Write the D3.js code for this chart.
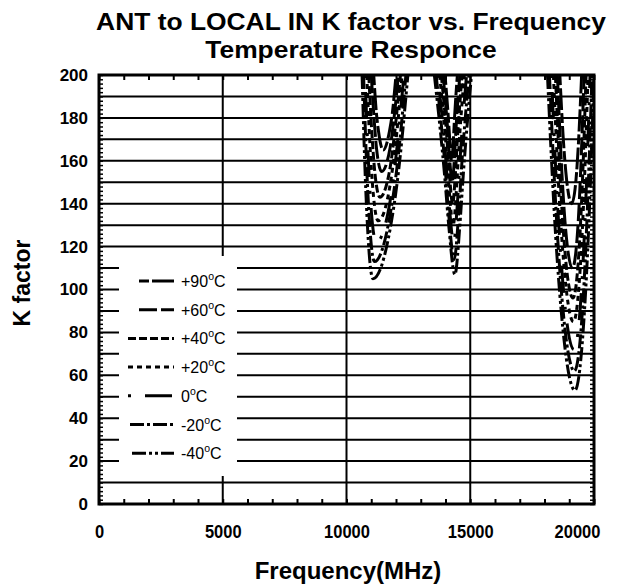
<!DOCTYPE html>
<html><head><meta charset="utf-8">
<script src="https://cdnjs.cloudflare.com/ajax/libs/d3/7.8.5/d3.min.js"></script>
<style>body{margin:0;background:#fff} text{font-family:"Liberation Sans",Arial,sans-serif;fill:#000}</style>
</head><body><svg id="c" width="621" height="584"></svg>
<script>
// ---- data: each series = three U-shaped segments of [frequency MHz, K factor]
const temps = ["+90", "+60", "+40", "+20", "0", "-20", "-40"];
const kP90 = [
  [[11100,200],[11210,182],[11290,174],[11480,165],[11740,174],[11850,182],[12000,200]],
  [[13980,200],[14115,180],[14170,170],[14250,160],[14320,170],[14365,180],[14480,200]],
  [[18620,200],[18760,170],[18860,155],[19100,140],[19300,155],[19380,170],[19500,200]]
];
const kP60 = [
  [[11000,200],[11125,178],[11210,166],[11420,155],[11760,166],[11900,178],[12100,200]],
  [[13900,200],[14085,175],[14160,162],[14270,150],[14365,162],[14425,175],[14580,200]],
  [[18520,200],[18700,155],[18825,132],[19130,110],[19365,132],[19460,155],[19600,200]]
];
const kP40 = [
  [[10900,200],[11030,172],[11125,157],[11350,143],[11765,157],[11935,172],[12180,200]],
  [[13830,200],[14060,170],[14150,155],[14290,140],[14405,155],[14480,170],[14670,200]],
  [[18440,200],[18650,148],[18795,122],[19150,96],[19415,122],[19525,148],[19680,200]]
];
const kP20 = [
  [[10820,200],[10955,166],[11050,149],[11280,132],[11765,149],[11965,166],[12250,200]],
  [[13760,200],[14035,165],[14145,147],[14310,130],[14445,147],[14535,165],[14760,200]],
  [[18360,200],[18600,142],[18765,114],[19170,85],[19465,114],[19585,142],[19760,200]]
];
const k0 = [
  [[10750,200],[10880,161],[10975,141],[11200,122],[11760,141],[11990,161],[12320,200]],
  [[13690,200],[14010,161],[14140,141],[14330,122],[14485,141],[14590,161],[14850,200]],
  [[18280,200],[18545,136],[18735,104],[19190,72],[19515,104],[19650,136],[19840,200]]
];
const kM20 = [
  [[10690,200],[10820,156],[10910,135],[11130,113],[11765,135],[12030,156],[12400,200]],
  [[13620,200],[13985,157],[14130,135],[14350,114],[14530,135],[14650,157],[14950,200]],
  [[18200,200],[18495,131],[18705,96],[19210,62],[19565,96],[19710,131],[19920,200]]
];
const kM40 = [
  [[10630,200],[10760,152],[10850,129],[11070,105],[11775,129],[12070,152],[12480,200]],
  [[13550,200],[13965,153],[14130,130],[14380,107],[14580,130],[14715,153],[15050,200]],
  [[18120,200],[18445,126],[18675,90],[19230,53],[19615,90],[19775,126],[20000,200]]
];
const seriesData = [kP90, kP60, kP40, kP20, k0, kM20, kM40];
const freqTicks = [0, 5000, 10000, 15000, 20000];
const kTicks = [0, 20, 40, 60, 80, 100, 120, 140, 160, 180, 200];
const titleLines = ["ANT to LOCAL IN K factor vs. Frequency", "Temperature Responce"];
const xTitle = "Frequency(MHz)";
const yTitle = "K factor";

// ---- styles
const dashes = ["10,3,22,3", "18,4", "8,3", "5,4", "3,14,27,14", "14,3,3,3", "14,3,3,3,3,3"];

const svg = d3.select("#c");
const L = 99, R = 594, T = 75, B = 504;
const x = d3.scaleLinear().domain([0, 20000]).range([L, R]);
const y = d3.scaleLinear().domain([0, 200]).range([B, T]);

// title
svg.append("g").selectAll("text").data(titleLines).join("text")
  .attr("transform", (d, i) => `translate(351,${30 + i * 28}) scale(1.1,1)`)
  .attr("text-anchor", "middle").attr("font-size", 24).attr("font-weight", "bold").text(d => d);

// gridlines
const grid = svg.append("g").attr("stroke", "#000").attr("stroke-width", 2);
grid.selectAll("line.h").data(d3.range(10, 200, 10)).join("line")
  .attr("x1", L).attr("x2", R).attr("y1", d => y(d)).attr("y2", d => y(d));
grid.selectAll("line.v").data([5000, 10000, 15000]).join("line")
  .attr("y1", T).attr("y2", B).attr("x1", d => x(d)).attr("x2", d => x(d));

// minor ticks (inward)
const xAxB = d3.axisBottom(x).tickValues(d3.range(0, 20001, 1000)).tickSize(-5).tickFormat("");
const xAxT = d3.axisTop(x).tickValues(d3.range(0, 20001, 1000)).tickSize(-5).tickFormat("");
const yAxL = d3.axisLeft(y).tickValues(d3.range(0, 201, 2)).tickSize(-4).tickFormat("");
const yAxR = d3.axisRight(y).tickValues(d3.range(0, 201, 2)).tickSize(-4).tickFormat("");
[[xAxB, `translate(0,${B})`, 2], [xAxT, `translate(0,${T})`, 2], [yAxL, `translate(${L},0)`, 1.5], [yAxR, `translate(${R},0)`, 1.5]].forEach(([ax, tr, w]) => {
  const g = svg.append("g").attr("transform", tr).call(ax);
  g.select(".domain").remove();
  g.selectAll("line").attr("stroke", "#000").attr("stroke-width", w);
});

// legend background
svg.append("rect").attr("x", 119).attr("y", 256).attr("width", 118).attr("height", 220).attr("fill", "#fff");

// curves
const g = svg.append("g");
svg.append("clipPath").attr("id", "clip").append("rect").attr("x", L).attr("y", T).attr("width", R - L).attr("height", B - T);
const line = d3.line().x(d => x(d[0])).y(d => y(d[1])).curve(d3.curveMonotoneX);
seriesData.forEach((segs, i) => {
  g.append("g").attr("clip-path", "url(#clip)").selectAll("path").data(segs).join("path")
    .attr("d", line).attr("fill", "none").attr("stroke", "#000")
    .attr("stroke-width", 3).attr("stroke-dasharray", dashes[i]);
});

// frame
svg.append("rect").attr("x", L).attr("y", T).attr("width", R - L).attr("height", B - T)
  .attr("fill", "none").attr("stroke", "#000").attr("stroke-width", 3);

// tick labels
const xl = svg.append("g").attr("transform", `translate(0,${B})`)
  .call(d3.axisBottom(x).tickValues(freqTicks).tickSize(0).tickPadding(18).tickFormat(d3.format("d")));
xl.select(".domain").remove();
xl.selectAll("text").attr("font-size", 16.5).attr("font-weight", "bold").attr("font-family", "Liberation Sans, Arial, sans-serif")
  .attr("dx", d => d === 20000 ? -17 : 0)
  .attr("transform", "scale(1,1.15)");
const yl = svg.append("g").attr("transform", `translate(${L},0)`)
  .call(d3.axisLeft(y).tickValues(kTicks).tickSize(0).tickPadding(11).tickFormat(d3.format("d")));
yl.select(".domain").remove();
yl.selectAll("text").attr("font-size", 17).attr("font-weight", "bold").attr("font-family", "Liberation Sans, Arial, sans-serif");

// axis titles
svg.append("text").attr("x", 348).attr("y", 579).attr("text-anchor", "middle")
  .attr("font-size", 24).attr("font-weight", "bold").text(xTitle);
svg.append("text").attr("transform", "translate(30,283) rotate(-90)").attr("text-anchor", "middle")
  .attr("font-size", 23).attr("font-weight", "bold").text(yTitle);

// legend
const lg = svg.append("g");
temps.forEach((t, i) => {
  const ly = 281 + i * 28.7;
  const x1 = [139, 139, 128, 128, 128, 130, 132][i];
  lg.append("line").attr("x1", x1).attr("x2", 174).attr("y1", ly).attr("y2", ly)
    .attr("stroke", "#000").attr("stroke-width", 3).attr("stroke-dasharray", dashes[i]);
  const tx = lg.append("text").attr("x", 181).attr("y", ly + 6).attr("font-size", 16);
  tx.append("tspan").text(t);
  tx.append("tspan").attr("font-size", 10.5).attr("dy", -7).text("o");
  tx.append("tspan").attr("dy", 7).text("C");
});
</script></body></html>
